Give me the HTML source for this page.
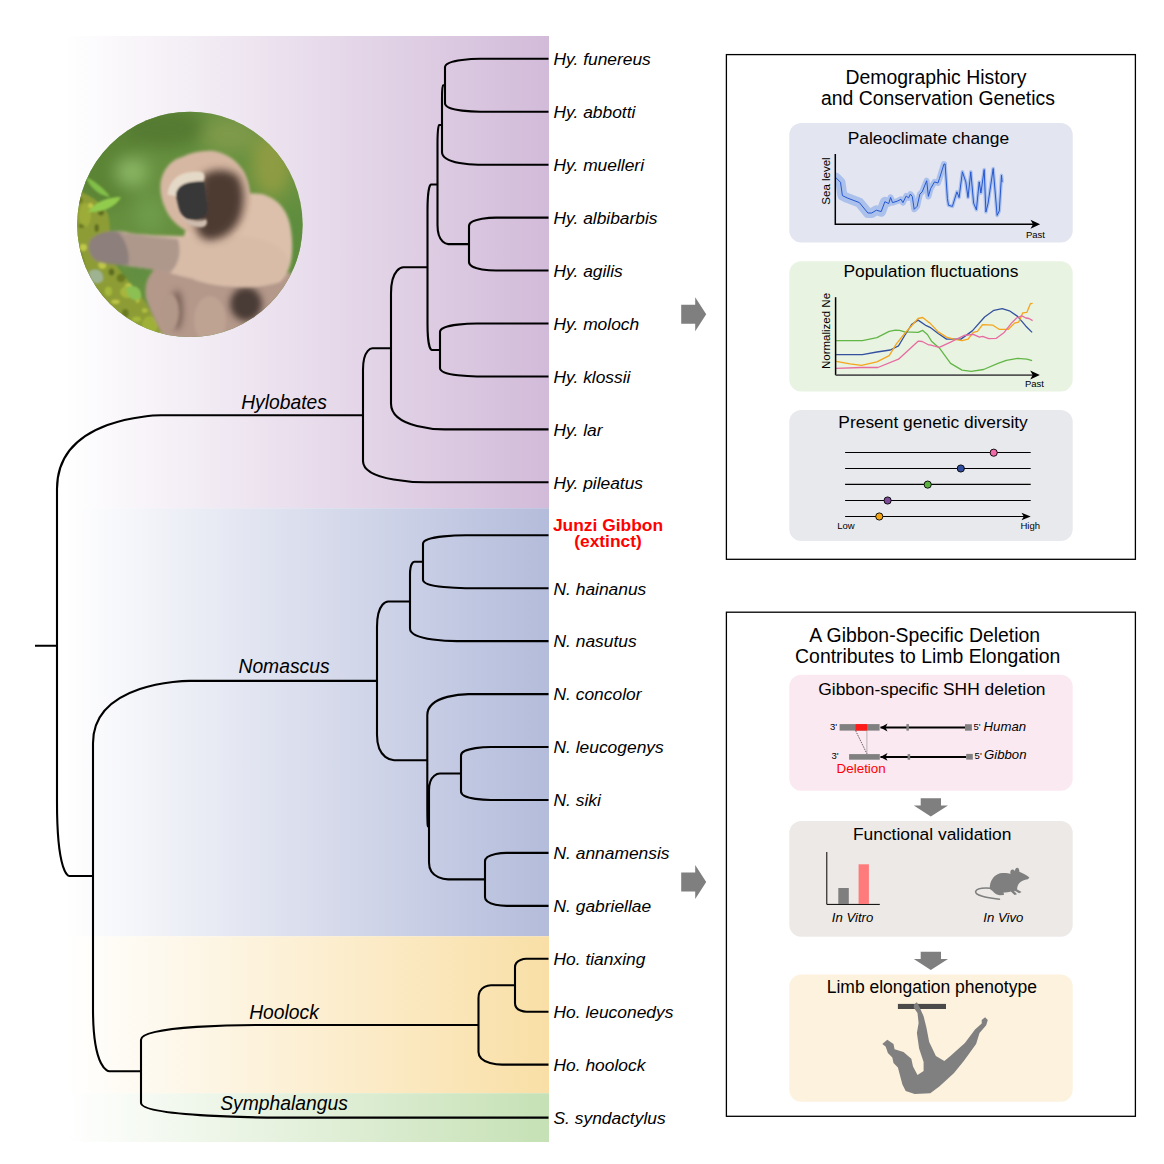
<!DOCTYPE html>
<html><head><meta charset="utf-8"><style>
html,body{margin:0;padding:0;background:#fff;width:1164px;height:1164px;overflow:hidden}
svg{display:block}
text{font-family:"Liberation Sans",sans-serif;fill:#000}
.sp{font-size:17.4px;font-style:italic}
.cl{font-size:19.3px;font-style:italic;text-anchor:middle}
.jz{font-size:17.4px;font-weight:bold;fill:#ff0000;text-anchor:middle}
.t1{font-size:19.4px;text-anchor:middle}
.t2{font-size:17.4px;text-anchor:middle}
.ax{font-size:11.5px}
.sm{font-size:9.5px}
.pr{font-size:9.5px}
.it13{font-size:13.2px;font-style:italic}
.del{font-size:13.4px;fill:#ff0000}
</style></head><body>
<svg width="1164" height="1164" viewBox="0 0 1164 1164">
<defs>
<linearGradient id="gP" x1="65" x2="549" y1="0" y2="0" gradientUnits="userSpaceOnUse"><stop offset="0" stop-color="#ffffff"/><stop offset="1" stop-color="#d2bbd9"/></linearGradient>
<linearGradient id="gB" x1="65" x2="549" y1="0" y2="0" gradientUnits="userSpaceOnUse"><stop offset="0" stop-color="#ffffff"/><stop offset="1" stop-color="#b4bcdb"/></linearGradient>
<linearGradient id="gY" x1="65" x2="549" y1="0" y2="0" gradientUnits="userSpaceOnUse"><stop offset="0" stop-color="#ffffff"/><stop offset="1" stop-color="#f9dfa6"/></linearGradient>
<linearGradient id="gG" x1="65" x2="549" y1="0" y2="0" gradientUnits="userSpaceOnUse"><stop offset="0" stop-color="#ffffff"/><stop offset="1" stop-color="#c6e1b5"/></linearGradient>
<clipPath id="palclip"><rect x="836" y="140" width="200" height="84"/></clipPath>
<clipPath id="circ"><circle cx="189.9" cy="224.4" r="112.7"/></clipPath>
<filter id="bl8" x="-50%" y="-50%" width="200%" height="200%"><feGaussianBlur stdDeviation="8"/></filter>
<filter id="bl3" x="-50%" y="-50%" width="200%" height="200%"><feGaussianBlur stdDeviation="3"/></filter>
<filter id="bl4" x="-50%" y="-50%" width="200%" height="200%"><feGaussianBlur stdDeviation="4"/></filter>
<filter id="bl1" x="-50%" y="-50%" width="200%" height="200%"><feGaussianBlur stdDeviation="1.2"/></filter>
<filter id="bl15" x="-50%" y="-50%" width="200%" height="200%"><feGaussianBlur stdDeviation="1.6"/></filter>
</defs>
<rect x="65" y="36" width="484" height="472.2" fill="url(#gP)"/>
<rect x="65" y="508.2" width="484" height="428.1" fill="url(#gB)"/>
<rect x="65" y="936.3" width="484" height="156.9" fill="url(#gY)"/>
<rect x="65" y="1093.2" width="484" height="48.8" fill="url(#gG)"/>
<g clip-path="url(#circ)">
<rect x="70" y="105" width="240" height="240" fill="#66903f"/>
<g filter="url(#bl8)">
<ellipse cx="105" cy="160" rx="35" ry="50" fill="#5c8436"/>
<ellipse cx="165" cy="128" rx="40" ry="20" fill="#557a32"/>
<ellipse cx="132" cy="172" rx="16" ry="14" fill="#8ab663"/>
<ellipse cx="150" cy="215" rx="14" ry="18" fill="#6e9c4c"/>
<ellipse cx="230" cy="135" rx="28" ry="18" fill="#7e9a48"/>
<ellipse cx="272" cy="165" rx="20" ry="32" fill="#8e9c42"/>
<ellipse cx="296" cy="240" rx="12" ry="35" fill="#5c8c3c"/>
<ellipse cx="140" cy="270" rx="10" ry="10" fill="#5d8c44"/>
</g>
<g filter="url(#bl1)">
<path d="M72,190 C86,192 100,200 108,214 C112,232 108,250 114,262 C122,276 140,292 152,312 C160,326 166,336 170,345 L70,345 Z" fill="#8d9c34"/>
<path d="M72,230 C78,240 82,255 86,270 C92,285 104,298 116,312 C124,322 130,335 134,345 L70,345Z" fill="#4e5e1e" opacity="0.5"/>
<ellipse cx="78.4" cy="200.3" rx="4.3" ry="3.2" fill="#6a7a24"/>
<ellipse cx="90.5" cy="205.6" rx="2.6" ry="2.6" fill="#c0c84a"/>
<ellipse cx="101.0" cy="211.8" rx="3.2" ry="3.6" fill="#5c6c20"/>
<ellipse cx="81.9" cy="225.8" rx="3.0" ry="2.0" fill="#5c6c20"/>
<ellipse cx="96.7" cy="228.0" rx="2.1" ry="4.0" fill="#5c6c20"/>
<ellipse cx="105.9" cy="238.6" rx="3.8" ry="4.2" fill="#5c6c20"/>
<ellipse cx="83.3" cy="247.5" rx="3.8" ry="3.4" fill="#c0c84a"/>
<ellipse cx="94.8" cy="252.8" rx="2.2" ry="2.3" fill="#6a7a24"/>
<ellipse cx="102.3" cy="264.8" rx="3.9" ry="4.1" fill="#c0c84a"/>
<ellipse cx="111.5" cy="272.0" rx="2.9" ry="3.5" fill="#5c6c20"/>
<ellipse cx="96.5" cy="277.4" rx="4.1" ry="4.5" fill="#b0c040"/>
<ellipse cx="121.0" cy="278.0" rx="4.4" ry="4.3" fill="#6a7a24"/>
<ellipse cx="108.4" cy="291.3" rx="3.6" ry="4.5" fill="#a6b83a"/>
<ellipse cx="128.6" cy="287.7" rx="4.1" ry="4.5" fill="#c0c84a"/>
<ellipse cx="115.5" cy="301.8" rx="4.2" ry="2.1" fill="#c0c84a"/>
<ellipse cx="137.6" cy="299.5" rx="2.1" ry="3.5" fill="#b0c040"/>
<ellipse cx="125.3" cy="313.3" rx="3.4" ry="4.3" fill="#6a7a24"/>
<ellipse cx="144.7" cy="310.4" rx="2.8" ry="2.2" fill="#b0c040"/>
<ellipse cx="136.6" cy="319.2" rx="4.4" ry="2.7" fill="#a6b83a"/>
<ellipse cx="150.6" cy="326.1" rx="2.8" ry="4.4" fill="#6a7a24"/>
<ellipse cx="146.4" cy="332.3" rx="4.2" ry="3.0" fill="#c0c84a"/>
<ellipse cx="160.2" cy="337.1" rx="3.6" ry="4.4" fill="#b0c040"/>
<ellipse cx="85" cy="215" rx="6" ry="12" fill="#a8b83a" opacity="0.6"/>
<ellipse cx="100" cy="250" rx="5" ry="9" fill="#9aae34"/>
<ellipse cx="128" cy="292" rx="8" ry="6" fill="#a6b63c"/>
<ellipse cx="150" cy="325" rx="8" ry="9" fill="#9fb038"/>
<path d="M86,177 C96,182 105,189 110,197 C100,196 90,188 86,177Z" fill="#82c048"/>
<path d="M88,212 C95,202 108,197 121,197 C116,207 102,213 88,212Z" fill="#92cc4e"/>
<path d="M89,272 C95,267 104,270 103,280 C98,286 90,284 89,272Z" fill="#9fb392"/>
<path d="M126,288 C133,283 143,288 141,298 C134,303 127,298 126,288Z" fill="#8cc052"/>
</g>
<g filter="url(#bl15)">
<!-- lower body -->
<path d="M168,345 C160,330 150,312 146,298 C144,285 148,275 156,268 L210,280 L260,286 L290,272 L305,300 L300,345 Z" fill="#b4988a"/>
<ellipse cx="177" cy="310" rx="6" ry="20" fill="#7a6258" filter="url(#bl3)"/>
<ellipse cx="246" cy="304" rx="16" ry="17" fill="#4a3a34" filter="url(#bl3)"/>
<ellipse cx="210" cy="320" rx="16" ry="24" fill="#bea292"/>
<ellipse cx="170" cy="312" rx="9" ry="18" fill="#b29888"/>
<!-- shoulder / upper body -->
<path d="M185,232 C198,200 230,190 262,194 C282,200 291,215 292,240 C293,260 290,272 280,282 C255,290 220,288 195,280 C183,268 181,248 185,232Z" fill="#dcc0ab"/>
<!-- arm -->
<path d="M90,240 C100,231 115,229 130,233 C160,237 195,236 240,236 C268,238 286,248 289,262 C288,280 270,287 250,287 C215,285 185,278 160,270 C135,267 112,264 96,261 C89,256 87,248 90,240Z" fill="#d8bca8"/>
<path d="M90,240 C98,232 110,230 122,232 C132,240 136,255 134,266 C118,265 106,264 96,261 C89,256 87,248 90,240Z" fill="#8c7f7b"/>
<path d="M118,232 C138,235 158,237 178,239 C182,254 178,266 170,273 C152,269 138,267 128,266 C130,255 128,243 118,232Z" fill="#ae988c"/>
<!-- head -->
<path d="M160.4,186 C161,172 170,160 182,157 C192,152 204,150 214,151 C226,153 236,160 243,170 C249,180 251,192 250,202 C248,215 242,228 232,236 C220,242 205,240 194,234 C182,230 172,222 167,212 C163,204 160,195 160.4,186Z" fill="#d6b7a2"/>
</g>
<g filter="url(#bl4)">
<path d="M202,176 C212,168 228,168 238,176 C245,188 245,204 240,218 C234,232 222,240 208,240 C198,238 194,228 197,216 C200,204 199,188 202,176Z" fill="#4e3a33"/>
</g>
<g filter="url(#bl1)">
<path d="M167.5,195 C168,186 173,178 181,174.5 C189,171.5 197,171 202,172 C205,173.5 205.5,179 203,181.5 C196,181 190,181.5 185,184 C180,187 177,191 176,196Z" fill="#e4d8c6"/>
<path d="M176,194 C177,188 182,184 189,182.5 C195,181.5 200,181.3 204.5,181.5 C205.5,190 206,198 207.5,205 C208.5,210 207.5,214 204,217 C199,220 192,220.5 187,219 C182,216.5 179,211 178,205 C177.3,201 176,198 176,194Z" fill="#393738"/>
<path d="M181,216 C186,221 196,223 206,219 C208,222 207,226 203,227 C196,228 186,225 181,216Z" fill="#cdbcae"/>
</g>
</g>

<path d="M445.00,85.27L445.00,67.27C445.00,58.97 478.78,58.80 480.19,58.80L548.50,58.80M445.00,85.27L445.00,103.27C445.00,111.57 478.78,111.74 480.19,111.74L548.50,111.74M442.00,124.97L442.00,97.98C442.00,85.52 442.98,85.27 443.02,85.27L445.00,85.27M442.00,124.97L442.00,151.97C442.00,164.43 476.76,164.68 478.21,164.68L548.50,164.68M469.00,244.09L469.00,226.09C469.00,217.79 494.95,217.62 496.03,217.62L548.50,217.62M469.00,244.09L469.00,262.09C469.00,270.39 494.95,270.56 496.03,270.56L548.50,270.56M437.50,184.53L437.50,144.03C437.50,125.36 438.97,124.97 439.03,124.97L442.00,124.97M437.50,184.53L437.50,225.03C437.50,243.71 447.78,244.09 448.21,244.09L469.00,244.09M440.00,349.97L440.00,331.97C440.00,323.67 475.41,323.50 476.89,323.50L548.50,323.50M440.00,349.97L440.00,367.97C440.00,376.27 475.41,376.44 476.89,376.44L548.50,376.44M427.50,267.25L427.50,211.00C427.50,185.06 430.76,184.53 430.90,184.53L437.50,184.53M427.50,267.25L427.50,323.50C427.50,349.44 431.58,349.97 431.75,349.97L440.00,349.97M391.00,348.32L391.00,293.19C391.00,267.77 402.91,267.25 403.41,267.25L427.50,267.25M391.00,348.32L391.00,403.44C391.00,428.86 442.41,429.38 444.55,429.38L548.50,429.38M363.00,415.32L363.00,369.76C363.00,348.74 372.14,348.32 372.52,348.32L391.00,348.32M363.00,415.32L363.00,460.88C363.00,481.89 423.55,482.32 426.07,482.32L548.50,482.32M423.00,561.73L423.00,543.73C423.00,535.43 463.96,535.26 465.67,535.26L548.50,535.26M423.00,561.73L423.00,579.73C423.00,588.03 463.96,588.20 465.67,588.20L548.50,588.20M410.00,601.43L410.00,574.44C410.00,561.98 414.24,561.73 414.42,561.73L423.00,561.73M410.00,601.43L410.00,628.43C410.00,640.89 455.21,641.14 457.09,641.14L548.50,641.14M461.00,773.49L461.00,755.49C461.00,747.19 489.56,747.02 490.75,747.02L548.50,747.02M461.00,773.49L461.00,791.49C461.00,799.79 489.56,799.96 490.75,799.96L548.50,799.96M485.00,879.37L485.00,861.37C485.00,853.07 505.73,852.90 506.59,852.90L548.50,852.90M485.00,879.37L485.00,897.37C485.00,905.67 505.73,905.84 506.59,905.84L548.50,905.84M429.00,826.43L429.00,790.43C429.00,773.83 439.44,773.49 439.88,773.49L461.00,773.49M429.00,826.43L429.00,862.43C429.00,879.03 447.28,879.37 448.04,879.37L485.00,879.37M427.30,760.25L427.30,715.26C427.30,694.50 466.86,694.08 468.51,694.08L548.50,694.08M427.30,760.25L427.30,805.25C427.30,826.01 427.85,826.43 427.88,826.43L429.00,826.43M377.00,680.84L377.00,626.85C377.00,601.94 387.77,601.43 388.22,601.43L410.00,601.43M377.00,680.84L377.00,734.84C377.00,759.75 393.42,760.25 394.10,760.25L427.30,760.25M515.00,985.25L515.00,967.25C515.00,958.95 525.93,958.78 526.39,958.78L548.50,958.78M515.00,985.25L515.00,1003.25C515.00,1011.55 525.93,1011.72 526.39,1011.72L548.50,1011.72M478.50,1024.95L478.50,997.96C478.50,985.50 490.41,985.25 490.91,985.25L515.00,985.25M478.50,1024.95L478.50,1051.95C478.50,1064.41 501.35,1064.66 502.30,1064.66L548.50,1064.66M141.00,1071.28L141.00,1039.78C141.00,1025.25 251.16,1024.95 255.75,1024.95L478.50,1024.95M141.00,1071.28L141.00,1102.78C141.00,1117.30 274.01,1117.60 279.55,1117.60L548.50,1117.60M93.00,876.06L93.00,743.31C93.00,682.09 185.70,680.84 189.56,680.84L377.00,680.84M93.00,876.06L93.00,1008.81C93.00,1070.03 108.67,1071.28 109.32,1071.28L141.00,1071.28M57.00,645.69L57.00,489.04C57.00,416.79 156.88,415.32 161.04,415.32L363.00,415.32M57.00,645.69L57.00,802.34C57.00,874.59 68.75,876.06 69.24,876.06L93.00,876.06M35,645.69L57,645.69" fill="none" stroke="#000" stroke-width="2.1" stroke-linejoin="round"/>
<text x="553.5" y="65.1" class="sp">Hy. funereus</text>
<text x="553.5" y="118.0" class="sp">Hy. abbotti</text>
<text x="553.5" y="171.0" class="sp">Hy. muelleri</text>
<text x="553.5" y="223.9" class="sp">Hy. albibarbis</text>
<text x="553.5" y="276.9" class="sp">Hy. agilis</text>
<text x="553.5" y="329.8" class="sp">Hy. moloch</text>
<text x="553.5" y="382.7" class="sp">Hy. klossii</text>
<text x="553.5" y="435.7" class="sp">Hy. lar</text>
<text x="553.5" y="488.6" class="sp">Hy. pileatus</text>
<text x="553.5" y="594.5" class="sp">N. hainanus</text>
<text x="553.5" y="647.4" class="sp">N. nasutus</text>
<text x="553.5" y="700.4" class="sp">N. concolor</text>
<text x="553.5" y="753.3" class="sp">N. leucogenys</text>
<text x="553.5" y="806.3" class="sp">N. siki</text>
<text x="553.5" y="859.2" class="sp">N. annamensis</text>
<text x="553.5" y="912.1" class="sp">N. gabriellae</text>
<text x="553.5" y="965.1" class="sp">Ho. tianxing</text>
<text x="553.5" y="1018.0" class="sp">Ho. leuconedys</text>
<text x="553.5" y="1071.0" class="sp">Ho. hoolock</text>
<text x="553.5" y="1123.9" class="sp">S. syndactylus</text>
<text x="608" y="531" class="jz">Junzi Gibbon</text><text x="608" y="547" class="jz">(extinct)</text>
<text x="284" y="408.7" class="cl">Hylobates</text>
<text x="284" y="673.4" class="cl">Nomascus</text>
<text x="284" y="1018.6" class="cl">Hoolock</text>
<text x="284" y="1109.7" class="cl">Symphalangus</text>
<polygon points="681.2,304.7 695.2,304.7 695.2,297.2 706.2,314.2 695.2,331.2 695.2,323.7 681.2,323.7" fill="#7f7f7f"/>
<polygon points="681.2,872.5 695.2,872.5 695.2,865 706.2,882 695.2,899 695.2,891.5 681.2,891.5" fill="#7f7f7f"/>
<rect x="726.4" y="54.6" width="409" height="504.7" fill="none" stroke="#000" stroke-width="1.3"/>
<rect x="726.4" y="612.2" width="409" height="504.1" fill="none" stroke="#000" stroke-width="1.3"/>
<rect x="789.3" y="123.1" width="283.4" height="119.4" rx="12" fill="#e3e5f1"/>
<rect x="789.3" y="261.2" width="283.4" height="130.3" rx="12" fill="#e8f3e2"/>
<rect x="789.3" y="410" width="283.4" height="130.9" rx="12" fill="#e8e9ec"/>
<rect x="789.3" y="674.8" width="283.4" height="115.9" rx="12" fill="#fbe9f1"/>
<rect x="789.3" y="821" width="283.4" height="115.7" rx="12" fill="#ede9e6"/>
<rect x="789.3" y="974.5" width="283.4" height="127.2" rx="12" fill="#fcf2de"/>
<text x="936" y="83.6" class="t1">Demographic History</text>
<text x="938" y="105" class="t1">and Conservation Genetics</text>
<text x="928.4" y="143.9" class="t2">Paleoclimate change</text>
<text x="930.9" y="276.8" class="t2">Population fluctuations</text>
<text x="933.1" y="427.5" class="t2">Present genetic diversity</text>
<text x="924.7" y="641.9" class="t1">A Gibbon-Specific Deletion</text>
<text x="927.7" y="662.8" class="t1">Contributes to Limb Elongation</text>
<text x="931.9" y="694.7" class="t2">Gibbon-specific SHH deletion</text>
<text x="932.2" y="839.6" class="t2">Functional validation</text>
<text x="931.8" y="993" class="t2" style="font-size:17.5px">Limb elongation phenotype</text>
<g clip-path="url(#palclip)">
<polyline points="835.8,177.6 840.5,182.3 842.4,195.6 847.1,197.9 859.4,202.6 867.9,213.0 871.7,213.0 876.4,210.2 881.2,211.6 884.9,201.7" fill="none" stroke="#abc1ec" stroke-width="10" stroke-linejoin="round" stroke-linecap="round"/>
<polyline points="884.9,201.7 888.7,203.6 890.6,197.4 892.5,202.6 897.2,201.2 901.0,199.3 902.9,202.6 906.2,196.0 908.6,197.9 910.4,194.1 912.3,196.5 914.2,209.3 917.1,206.4 919.9,194.1 922.2,191.9 926.7,180.7 928.4,196.4 930.6,188.6 934.5,181.9 937.9,183.0 939.5,178.5 944.0,164.0" fill="none" stroke="#abc1ec" stroke-width="6" stroke-linejoin="round" stroke-linecap="round"/>
<polyline points="944.0,164.0 945.1,164.0 947.4,198.6 948.5,205.3 952.4,206.4 956.9,191.9 959.1,197.5 962.4,171.8 965.8,181.9 968.0,197.5 970.8,171.8 973.6,203.1 976.4,209.8 979.2,181.9 980.9,193.0 984.2,169.6 985.9,212.0 988.1,203.1 993.2,168.5 997.1,215.4 999.3,210.9 1001.5,175.2 1002.1,181.9" fill="none" stroke="#abc1ec" stroke-width="3.5" stroke-linejoin="round" stroke-linecap="round"/>
</g>
<polyline points="835.8,177.6 840.5,182.3 842.4,195.6 847.1,197.9 859.4,202.6 867.9,213.0 871.7,213.0 876.4,210.2 881.2,211.6 884.9,201.7 888.7,203.6 890.6,197.4 892.5,202.6 897.2,201.2 901.0,199.3 902.9,202.6 906.2,196.0 908.6,197.9 910.4,194.1 912.3,196.5 914.2,209.3 917.1,206.4 919.9,194.1 922.2,191.9 926.7,180.7 928.4,196.4 930.6,188.6 934.5,181.9 937.9,183.0 939.5,178.5 944.0,164.0 945.1,164.0 947.4,198.6 948.5,205.3 952.4,206.4 956.9,191.9 959.1,197.5 962.4,171.8 965.8,181.9 968.0,197.5 970.8,171.8 973.6,203.1 976.4,209.8 979.2,181.9 980.9,193.0 984.2,169.6 985.9,212.0 988.1,203.1 993.2,168.5 997.1,215.4 999.3,210.9 1001.5,175.2 1002.1,181.9" fill="none" stroke="#2558d0" stroke-width="1" stroke-linejoin="round"/>
<path d="M835.3,154 L835.3,224.3 L1033,224.3" fill="none" stroke="#000" stroke-width="1.5"/>
<polygon points="1040.1,224.3 1030.5,219.8 1033,224.3 1030.5,228.8" fill="#000"/>
<text transform="translate(830,181) rotate(-90)" class="ax" text-anchor="middle">Sea level</text>
<text x="1025.9" y="237.5" class="sm">Past</text>
<polyline points="836.1,340.7 862.4,340.7 876.9,337.6 889.2,331.4 895.4,330.2 899.5,330.4 904.7,331.9 918.1,332.4 922.7,330.4 927.4,334.5 931.5,341.2 939.3,347.9 950.6,363.4 962.0,370.1 971.2,371.4 983.6,369.5 998.0,363.4 1006.3,360.3 1017.6,358.4 1026.9,359.2 1032.1,360.6" fill="none" stroke="#62b646" stroke-width="1.3" stroke-linejoin="round"/>
<polyline points="836.1,354.6 862.4,354.6 876.9,352.0 890.3,350.0 898.5,345.8 904.7,335.5 911.9,324.2 918.1,320.1 926.3,325.7 930.0,327.3 938.2,333.5 946.5,339.1 960.9,339.1 972.3,330.9 984.6,317.0 993.9,310.3 1002.2,308.7 1009.4,310.8 1017.6,316.4 1025.9,326.2 1032.1,332.4" fill="none" stroke="#34519f" stroke-width="1.3" stroke-linejoin="round"/>
<polyline points="836.1,361.3 850.1,363.9 861.4,365.4 876.9,361.8 889.2,355.6 896.4,343.8 904.7,333.5 918.1,318.5 922.7,317.5 928.4,322.1 930.0,323.1 938.2,331.9 946.5,337.1 953.7,339.1 962.0,340.7 968.1,339.1 973.3,332.4 977.4,331.4 982.6,324.7 992.9,325.2 999.1,329.3 1008.4,329.3 1014.5,323.1 1018.7,322.1 1022.8,312.8 1026.9,312.3 1030.5,303.6 1032.6,303.4" fill="none" stroke="#f4a51c" stroke-width="1.3" stroke-linejoin="round"/>
<polyline points="836.1,368.3 861.4,367.5 877.9,367.5 898.5,359.2 918.1,341.2 922.2,341.5 928.4,344.8 930.0,344.8 939.3,347.4 950.6,342.2 964.0,335.5 973.3,334.3 979.5,337.1 982.6,336.3 988.8,338.6 996.0,338.4 1004.2,332.4 1011.5,323.1 1016.6,318.0 1021.8,315.9 1025.9,318.0 1029.0,318.5 1032.6,320.6" fill="none" stroke="#e86aa0" stroke-width="1.3" stroke-linejoin="round"/>
<path d="M835.6,297.2 L835.6,375.1" fill="none" stroke="#000" stroke-width="1.5"/>
<path d="M835.6,375.1 L1033,375.1" fill="none" stroke="#555" stroke-width="1.8"/>
<polygon points="1039.8,375.1 1030.2,370.6 1032.7,375.1 1030.2,379.6" fill="#000"/>
<text transform="translate(830.3,331) rotate(-90)" class="ax" text-anchor="middle">Normalized Ne</text>
<text x="1024.9" y="386.6" class="sm">Past</text>
<path d="M845.1,452.5 L1030.7,452.5" stroke="#000" stroke-width="1.15"/>
<path d="M845.1,468.5 L1030.7,468.5" stroke="#000" stroke-width="1.15"/>
<path d="M845.1,484.4 L1030.7,484.4" stroke="#000" stroke-width="1.15"/>
<path d="M845.1,500.5 L1030.7,500.5" stroke="#000" stroke-width="1.15"/>
<path d="M845.1,516.5 L1024,516.5" stroke="#000" stroke-width="1.15"/>
<polygon points="1030.7,516.5 1021.5,512.7 1023.8,516.5 1021.5,520.3" fill="#000"/>
<circle cx="993.7" cy="452.7" r="3.6" fill="#ef6aa6" stroke="#000" stroke-width="0.9"/>
<circle cx="960.8" cy="468.5" r="3.6" fill="#2f4c9d" stroke="#000" stroke-width="0.9"/>
<circle cx="927.7" cy="484.6" r="3.6" fill="#5bb33f" stroke="#000" stroke-width="0.9"/>
<circle cx="887.6" cy="500.5" r="3.6" fill="#7d4a98" stroke="#000" stroke-width="0.9"/>
<circle cx="879.3" cy="516.5" r="3.6" fill="#f5a50f" stroke="#000" stroke-width="0.9"/>
<text x="837.2" y="528.8" class="sm">Low</text>
<text x="1020.5" y="528.8" class="sm">High</text>
<rect x="839.6" y="724.1" width="40" height="6.5" fill="#808080"/>
<rect x="855.6" y="724.1" width="11.5" height="6.5" fill="#ff1a1a"/>
<path d="M880.5,727.5 L965,727.5" stroke="#000" stroke-width="2"/>
<polygon points="880.3,727.5 887.5,723.6 885.6,727.5 887.5,731.4" fill="#000"/>
<rect x="906.4" y="724.1" width="2.5" height="6.5" fill="#808080"/>
<rect x="965" y="724.2" width="6.9" height="6.5" fill="#808080"/>
<rect x="849.1" y="754.1" width="30.7" height="5.6" fill="#808080"/>
<path d="M880.5,756.9 L966.2,756.9" stroke="#000" stroke-width="2"/>
<polygon points="880.3,756.9 887.5,753 885.6,756.9 887.5,760.8" fill="#000"/>
<rect x="907.6" y="754.1" width="2.6" height="5.6" fill="#808080"/>
<rect x="966.2" y="753.9" width="6.6" height="5.7" fill="#808080"/>
<path d="M855.6,730.6 L866.9,753.8" stroke="#000" stroke-width="0.6" stroke-dasharray="1.5,1"/>
<path d="M866.9,730.6 L866.9,754" stroke="#888" stroke-width="0.6"/>
<text x="830" y="729.6" class="pr">3'</text>
<text x="831.5" y="759.3" class="pr">3'</text>
<text x="973.4" y="729.5" class="pr">5'</text>
<text x="974.6" y="759.3" class="pr">5'</text>
<text x="983.6" y="730.7" class="it13">Human</text>
<text x="984" y="758.7" class="it13">Gibbon</text>
<text x="836.6" y="773.4" class="del">Deletion</text>
<polygon points="920.7,798.3 941,798.3 941,805.5999999999999 948,805.5999999999999 930.8,816.4 913.8,805.5999999999999 920.7,805.5999999999999" fill="#7f7f7f"/>
<polygon points="920.7,951.8 941,951.8 941,959.0999999999999 948,959.0999999999999 930.8,969.9 913.8,959.0999999999999 920.7,959.0999999999999" fill="#7f7f7f"/>
<path d="M826.8,852 L826.8,904.4 L879.8,904.4" fill="none" stroke="#000" stroke-width="1"/>
<rect x="838.3" y="888" width="10.5" height="16" fill="#7f7f7f"/>
<rect x="858.6" y="864.3" width="10.3" height="39.7" fill="#ff7a7a"/>
<text x="831.8" y="922.2" class="it13">In Vitro</text>
<text x="983.3" y="922.3" class="it13">In Vivo</text>
<path d="M989.8,889 C989.5,882 993,875.5 1000,873.3 C1004,872.6 1008,873 1010.5,874 C1009.8,871.5 1011,869.5 1012.6,869.6 C1014.2,869.7 1014.9,871 1015,871.6 C1014.8,869.5 1015.8,867.6 1017.3,867.7 C1018.8,867.8 1019.5,870 1019.3,871.8 C1022,872.8 1026,875 1029.4,877.4 C1028.8,878.6 1027.5,879.3 1026,879.6 C1023,880.6 1020,882 1018.6,884 C1017.4,886 1017,888 1017.2,889.6 L1021.6,892.1 L1019.2,893.3 L1015.8,891.3 L1013.8,890.8 L1017,894.3 L1014.6,895 L1010.8,891.4 C1009,892 1006,892.4 1003.6,892.4 L1004,894.9 L999.6,895.3 C997,894.9 994.5,893.6 992.3,890.8 Z" fill="#7f7f7f"/>
<path d="M991,888.2 C983,887.6 976.5,888.5 975.6,891.5 C975.2,895 984,897.6 999.5,899.2" fill="none" stroke="#7f7f7f" stroke-width="1.5" stroke-linecap="round"/>
<rect x="897.9" y="1003.9" width="48.1" height="5.1" fill="#4a4a4a"/>
<polygon points="914.1,1004.5 916.9,1002.3 919.1,1006.2 923.6,1016.2 926.4,1027.4 929.2,1041.9 935.9,1055.9 944.3,1060.9 950.4,1055.9 964.9,1043.0 975.0,1029.6 981.7,1023.5 981.7,1020.1 985.1,1017.3 987.8,1020.1 986.2,1025.2 979.5,1033.0 976.1,1044.1 963.8,1060.9 953.8,1073.2 939.3,1086.6 930.3,1093.3 914.7,1093.9 905.7,1091.1 902.4,1084.4 897.9,1067.6 893.5,1063.1 892.3,1057.6 887.9,1053.1 885.6,1046.4 882.3,1044.1 887.3,1039.7 893.5,1044.1 894.6,1049.2 903.5,1052.0 911.3,1058.7 913.0,1066.5 917.5,1074.9 923.6,1071.0 923.6,1062.0 919.1,1048.6 916.9,1033.0 918.6,1022.9 917.5,1012.9 913.6,1007.3" fill="#808080"/>
</svg>
</body></html>
